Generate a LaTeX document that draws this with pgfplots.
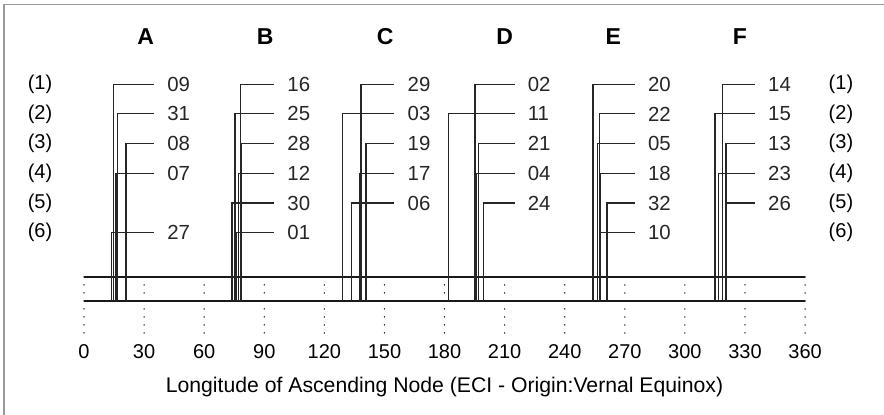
\documentclass[border=0pt]{standalone}
\usepackage{fontspec}
\setmainfont{Liberation Sans}
\usepackage{pgfplots}
\pgfplotsset{compat=1.18}

% one satellite: longitude, level (7 - slot), end of leader, PRN
\newcommand{\sat}[4]{%
  \addplot[satline] coordinates {(#1,-1.3) (#1,#2) (#3,#2)}
    node[pos=1,prn] {#4};}

\tikzset{
  satline/.style={black!85, line width=0.6pt, mark=none},
  prn/.style={anchor=west, inner sep=0pt, xshift=6.3pt, font=\fontsize{10.2}{12}\selectfont},
  hdr/.style={font=\fontsize{11.5}{13}\selectfont\bfseries},
  slotlab/.style={font=\fontsize{10}{12}\selectfont}
}

\begin{document}
\begin{tikzpicture}
\begin{axis}[
  x=1.0015pt, y=14.85pt,
  xmin=-41.94, xmax=399.4,
  ymin=-5.138, ymax=8.835,
  axis line style={draw=none},
  major tick length=0pt,
  ytick=\empty,
  xtick={0,30,...,360},
  xticklabel style={anchor=center, yshift=31.5pt, font=\fontsize{10}{12}\selectfont},
  /pgf/number format/assume math mode=true,
  clip=false,
]
\coordinate (sw) at (rel axis cs:0,0);
\coordinate (ne) at (rel axis cs:1,1);

% frame edge
\draw[gray!80, line width=0.8pt] (axis cs:-39.94,-5.138) -- (axis cs:-39.94,8.683) -- (axis cs:399.4,8.683);

% dotted longitude marks
\pgfplotsinvokeforeach{0,30,60,90,120,150,180,210,240,270,300,330,360}{
  \draw[black, line width=0.75pt, line cap=round, dash pattern=on 0pt off 4pt]
    (axis cs:#1,-0.49) -- (axis cs:#1,-2.38);
}

% band
\addplot[black!90, line width=1.2pt, mark=none] coordinates {(0,-1.3) (360,-1.3)};
\addplot[black!90, line width=1.2pt, mark=none] coordinates {(0,-0.49) (360,-0.49)};

% plane A
\sat{14.6}{6}{35}{09}
\sat{16.6}{5}{35}{31}
\sat{21.0}{4}{35}{08}
\sat{16.0}{3}{35}{07}
\sat{13.8}{1}{35}{27}
% plane B
\sat{78.2}{6}{95}{16}
\sat{75.4}{5}{95}{25}
\sat{78.4}{4}{95}{28}
\sat{77.2}{3}{95}{12}
\sat{73.9}{2}{95}{30}
\sat{76.2}{1}{95}{01}
% plane C
\sat{138.3}{6}{155}{29}
\sat{129.0}{5}{155}{03}
\sat{140.8}{4}{155}{19}
\sat{137.8}{3}{155}{17}
\sat{133.5}{2}{155}{06}
% plane D
\sat{195.2}{6}{215}{02}
\sat{181.9}{5}{215}{11}
\sat{196.9}{4}{215}{21}
\sat{195.7}{3}{215}{04}
\sat{199.4}{2}{215}{24}
% plane E
\sat{254.1}{6}{275}{20}
\sat{257.5}{5}{275}{22}
\sat{256.3}{4}{275}{05}
\sat{257.8}{3}{275}{18}
\sat{261.1}{2}{275}{32}
\sat{257.6}{1}{275}{10}
% plane F
\sat{318.9}{6}{335}{14}
\sat{315.0}{5}{335}{15}
\sat{320.5}{4}{335}{13}
\sat{316.7}{3}{335}{23}
\sat{320.3}{2}{335}{26}

% plane headers
\node[hdr] at (axis cs:30.8,7.59) {A};
\node[hdr] at (axis cs:90.4,7.59) {B};
\node[hdr] at (axis cs:150.3,7.59) {C};
\node[hdr] at (axis cs:210,7.59) {D};
\node[hdr] at (axis cs:264.3,7.59) {E};
\node[hdr] at (axis cs:327.5,7.59) {F};

% slot labels
\pgfplotsinvokeforeach{1,2,3,4,5,6}{
  \node[slotlab] at (axis cs:-21.97,7-#1) {(#1)};
  \node[slotlab] at (axis cs:377.9,7-#1) {(#1)};
}

\node[font=\fontsize{10.6}{12}\selectfont] at (axis cs:180,-4.2)
  {Longitude of Ascending Node (ECI - Origin:Vernal Equinox)};
\end{axis}
\pgfresetboundingbox
\path (sw) rectangle (ne);
\end{tikzpicture}
\end{document}
